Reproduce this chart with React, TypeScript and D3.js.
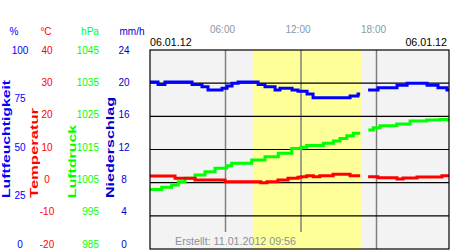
import React from "react";
import * as d3 from "d3";

// ---- data ----
const humidityTimes = [0, 0.64, 1.19, 3.34, 4.13, 4.61, 5.72, 6.12, 6.52, 7.0, 8.59, 9.14, 9.94, 10.33, 11.29, 11.76, 12.48, 12.96, 15.9, 16.53, 16.7, 17.0, 17.33, 18.12, 19.63, 20.43, 22.02, 22.89, 23.6, 24];
const humidityValues: (number | null)[] = [83.6, 82.4, 83.6, 82.4, 81.2, 79.5, 80.4, 81.6, 83.0, 83.6, 82.4, 81.2, 79.5, 80.4, 79.5, 78.8, 77.4, 75.5, 76.4, 77.4, 77.4, null, 79.5, 80.7, 81.9, 83.0, 81.9, 80.7, 79.5, 79.5];

const temperatureTimes = [0, 1.99, 3.58, 5.96, 8.8, 9.3, 10.17, 10.97, 11.76, 12.0, 12.45, 12.98, 13.5, 14.55, 15.9, 16.7, 17.0, 17.33, 18.12, 19.63, 20.11, 21.22, 23.2, 24];
const temperatureValues: (number | null)[] = [1.05, 0.34, -0.19, -0.71, -1.0, -0.71, -0.19, 0.34, 0.65, 0.84, 1.15, 0.84, 1.15, 1.58, 1.15, 1.15, null, 0.84, 0.53, 0.12, 0.43, 0.74, 1.15, 1.15];

const pressureTimes = [0, 0.93, 1.72, 2.25, 2.78, 3.58, 4.37, 5.17, 6.1, 6.49, 8.08, 9.14, 10.2, 11.26, 12.0, 12.45, 13.78, 14.57, 15.1, 15.64, 16.16, 16.7, 17.0, 17.35, 17.75, 18.28, 19.61, 20.67, 22.0, 23.05, 23.71, 24];
const pressureValues: (number | null)[] = [1001.9, 1002.6, 1003.3, 1004.3, 1005.4, 1006.4, 1007.4, 1008.5, 1009.2, 1010.0, 1011.0, 1012.0, 1013.1, 1014.6, 1015.0, 1015.5, 1016.2, 1016.9, 1017.7, 1018.5, 1019.3, 1019.3, null, 1020.3, 1021.0, 1021.6, 1022.2, 1023.1, 1023.4, 1023.6, 1023.4, 1023.4];

const humidityTicks = [0, 25, 50, 75, 100];
const temperatureTicks = [-20, -10, 0, 10, 20, 30, 40];
const pressureTicks = [985, 995, 1005, 1015, 1025, 1035, 1045];
const precipitationTicks = [0, 4, 8, 12, 16, 20, 24];
const timeTicks = [6, 12, 18];
const timeLabels = ["06:00", "12:00", "18:00"];
const daylight = [8.17, 16.83];
const dateLeft = "06.01.12";
const dateRight = "06.01.12";
const createdText = "Erstellt: 11.01.2012 09:56";

const W = 450, H = 250;
const L = 150, R = 449, T = 50, B = 249;
const FONT = "'Liberation Sans', Arial, sans-serif";

const BLUE = "#0000ff";
const RED = "#ff0000";
const GREEN = "#00ff00";
const NAVY = "#0000cc";

export default function App() {
  const x = d3.scaleLinear().domain([0, 24]).range([L, 452]);
  const yGrid = d3.scaleLinear().domain([0, 6]).range([B, T]);
  const yHum = d3.scaleLinear().domain([0, 100]).range([244, 50.3]);
  const yTemp = d3.scaleLinear().domain([-20, 40]).range([244, 50.3]);
  const yPres = d3.scaleLinear().domain([985, 1045]).range([244, 50.3]);
  const yPrec = d3.scaleLinear().domain([0, 24]).range([244, 50.3]);

  const mk = (ts: number[], vs: (number | null)[], y: d3.ScaleLinear<number, number>) => {
    const pts = ts.map((t, i) => [t, vs[i]] as [number, number | null]);
    return d3
      .line<[number, number | null]>()
      .defined((d) => d[1] !== null)
      .x((d) => x(d[0]))
      .y((d) => y(d[1] as number))
      .curve(d3.curveStepAfter)(pts) || "";
  };

  const humPath = mk(humidityTimes, humidityValues, yHum);
  const tempPath = mk(temperatureTimes, temperatureValues, yTemp);
  const presPath = mk(pressureTimes, pressureValues, yPres);

  const tickCol = (ticks: number[], y: d3.ScaleLinear<number, number>, cx: number, color: string, anchor: string) =>
    ticks.map((v) => (
      <text key={v} x={cx} y={y(v)} dy="0.36em" textAnchor={anchor as any} fill={color} fontSize={10} fontFamily={FONT}>
        {v}
      </text>
    ));

  const rotLabel = (label: string, bx: number, len: number, color: string) => (
    <text
      transform={`translate(${bx},198) rotate(-90)`}
      fill={color}
      fontSize={10.5}
      fontWeight="bold"
      fontFamily={FONT}
      textLength={len}
      lengthAdjust="spacingAndGlyphs"
    >
      {label}
    </text>
  );

  return (
    <svg width={W} height={H} style={{ position: "absolute", left: 0, top: 0, background: "#fff" }}>
      <defs>
        <clipPath id="plotclip">
          <rect x={L} y={T} width={R - L} height={B - T} />
        </clipPath>
      </defs>

      {/* backgrounds */}
      <rect x={L} y={T} width={R - L} height={B - T} fill="#f3f3f3" />
      <rect x={x(daylight[0])} y={T} width={x(daylight[1]) - x(daylight[0])} height={B - T} fill="#ffff99" />

      {/* vertical time lines */}
      {timeTicks.map((t) => {
        const xx = x(t);
        const y2 = xx > 170 && xx < 305 ? 232 : B;
        return <line key={t} x1={xx} x2={xx} y1={T} y2={y2} stroke="#808080" strokeWidth={1.5} />;
      })}

      {/* horizontal grid */}
      {d3.range(1, 6).map((k) => (
        <line key={k} x1={L} x2={R} y1={yGrid(k)} y2={yGrid(k)} stroke="#000" strokeWidth={1.2} />
      ))}

      {/* data lines */}
      <g clipPath="url(#plotclip)" fill="none" strokeWidth={3}>
        <path d={presPath} stroke={GREEN} />
        <path d={tempPath} stroke={RED} />
        <path d={humPath} stroke={BLUE} />
      </g>

      {/* border */}
      <rect x={L} y={T} width={R - L} height={B - T} fill="none" stroke="#000" strokeWidth={1.2} />

      {/* created text */}
      <text x={175} y={245} fill="#8a8f99" fontSize={10.7} fontFamily={FONT}>
        {createdText}
      </text>

      {/* time labels */}
      {timeTicks.map((t, i) => (
        <text key={t} x={x(t) - 3} y={33} textAnchor="middle" fill="#8899aa" fontSize={10} fontFamily={FONT}>
          {timeLabels[i]}
        </text>
      ))}

      {/* dates */}
      <text x={150} y={46} fill="#000" fontSize={10.7} fontFamily={FONT}>{dateLeft}</text>
      <text x={447} y={46} textAnchor="end" fill="#000" fontSize={10.7} fontFamily={FONT}>{dateRight}</text>

      {/* headers */}
      <text x={14} y={35} textAnchor="middle" fill={BLUE} fontSize={10} fontFamily={FONT}>%</text>
      <text x={46} y={35} textAnchor="middle" fill={RED} fontSize={10} fontFamily={FONT}>°C</text>
      <text x={90} y={35} textAnchor="middle" fill={GREEN} fontSize={10} fontFamily={FONT}>hPa</text>
      <text x={132} y={35} textAnchor="middle" fill={NAVY} fontSize={10} fontFamily={FONT}>mm/h</text>

      {/* tick labels */}
      {tickCol(humidityTicks, yHum, 20, BLUE, "middle")}
      {tickCol(temperatureTicks, yTemp, 47, RED, "middle")}
      {tickCol(pressureTicks, yPres, 99, GREEN, "end")}
      {tickCol(precipitationTicks, yPrec, 124, NAVY, "middle")}

      {/* rotated axis titles */}
      {rotLabel("Luftfeuchtigkeit", 9.5, 118, BLUE)}
      {rotLabel("Temperatur", 38, 90, RED)}
      {rotLabel("Luftdruck", 75.5, 73, GREEN)}
      {rotLabel("Niederschlag", 114, 101, NAVY)}
    </svg>
  );
}
